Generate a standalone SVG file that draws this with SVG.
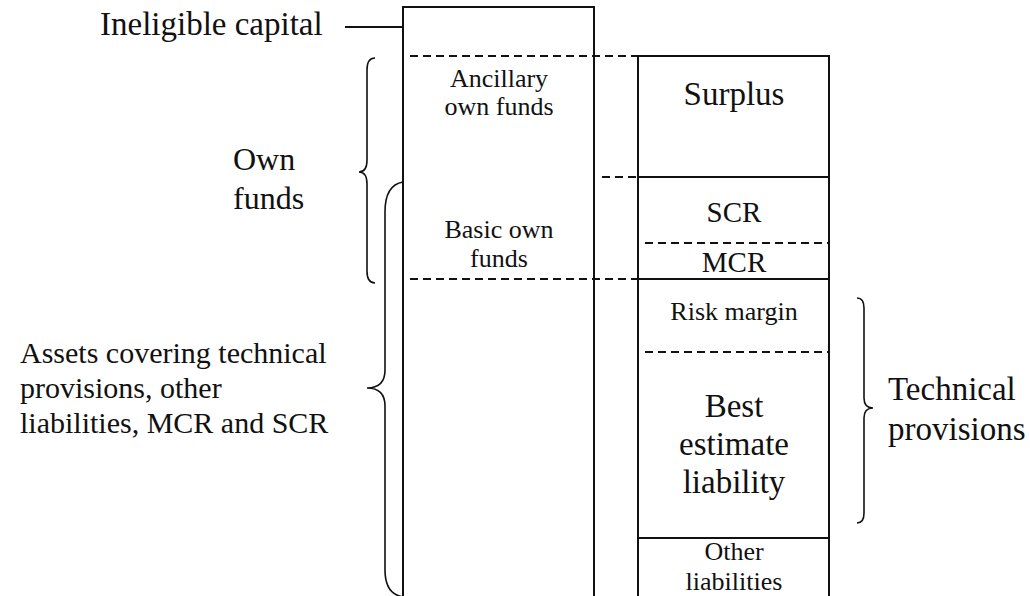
<svg xmlns="http://www.w3.org/2000/svg" width="1030" height="596" viewBox="0 0 1030 596">
<style>
text{font-family:"Liberation Serif","Times New Roman",serif;fill:#111}
.solid{fill:none;stroke:#111;stroke-width:2}
.dash{fill:none;stroke:#111;stroke-width:2;stroke-dasharray:8,5}
.brace{fill:none;stroke:#111;stroke-width:1.6}
.c{text-anchor:middle}
</style>
<rect width="1030" height="596" fill="#fff"/>
<g id="assets-column">
<rect class="solid" x="403" y="7" width="191" height="592"/>
<text class="c" x="499" y="87" font-size="26">Ancillary</text>
<text class="c" x="499" y="115" font-size="26">own funds</text>
<text class="c" x="499" y="238" font-size="26">Basic own</text>
<text class="c" x="499" y="267" font-size="26">funds</text>
</g>
<g id="liabilities-column">
<rect class="solid" x="638" y="56" width="191" height="543"/>
<line class="solid" x1="638" y1="177" x2="829" y2="177"/>
<line class="solid" x1="638" y1="279" x2="829" y2="279"/>
<line class="solid" x1="638" y1="538" x2="829" y2="538"/>
<line class="dash" x1="645" y1="243" x2="829" y2="243"/>
<line class="dash" x1="645" y1="352" x2="829" y2="352"/>
<text class="c" x="734" y="105" font-size="33">Surplus</text>
<text class="c" x="734" y="222" font-size="29">SCR</text>
<text class="c" x="734" y="272" font-size="29">MCR</text>
<text class="c" x="734" y="320" font-size="26">Risk margin</text>
<text class="c" x="734" y="417" font-size="33">Best</text>
<text class="c" x="734" y="455" font-size="33">estimate</text>
<text class="c" x="734" y="493" font-size="33">liability</text>
<text class="c" x="734" y="560" font-size="26">Other</text>
<text class="c" x="734" y="590" font-size="26">liabilities</text>
</g>
<g id="ineligible-capital">
<text x="100" y="35" font-size="33">Ineligible capital</text>
</g>
<g id="own-funds">
<text x="233" y="170" font-size="32">Own</text>
<text x="233" y="209" font-size="32">funds</text>
<path class="brace" d="M375,58 Q367,58 367,70 L367,160 Q367,172 359,172 Q367,172 367,184 L367,271 Q367,283 375,283"/>
</g>
<g id="assets-covering">
<text x="20" y="363" font-size="30">Assets covering technical</text>
<text x="20" y="398" font-size="30">provisions, other</text>
<text x="20" y="433" font-size="30">liabilities, MCR and SCR</text>
<path class="brace" d="M403,182 Q385,185 385,212 L385,370 Q385,388 367,388 Q385,388 385,406 L385,570 Q385,594 403,597"/>
</g>
<g id="technical-provisions">
<text x="888" y="400" font-size="33">Technical</text>
<text x="888" y="440" font-size="33">provisions</text>
<path class="brace" d="M857,298 Q864,298 864,308 L864,398 Q864,408 873,408 Q864,408 864,418 L864,513 Q864,523 857,523"/>
</g>
<g id="connectors">
<line class="solid" x1="345" y1="27" x2="403" y2="27"/>
<line class="dash" x1="410" y1="56" x2="638" y2="56"/>
<line class="dash" x1="602" y1="177" x2="638" y2="177"/>
<line class="dash" x1="410" y1="279" x2="638" y2="279"/>
</g>
</svg>
